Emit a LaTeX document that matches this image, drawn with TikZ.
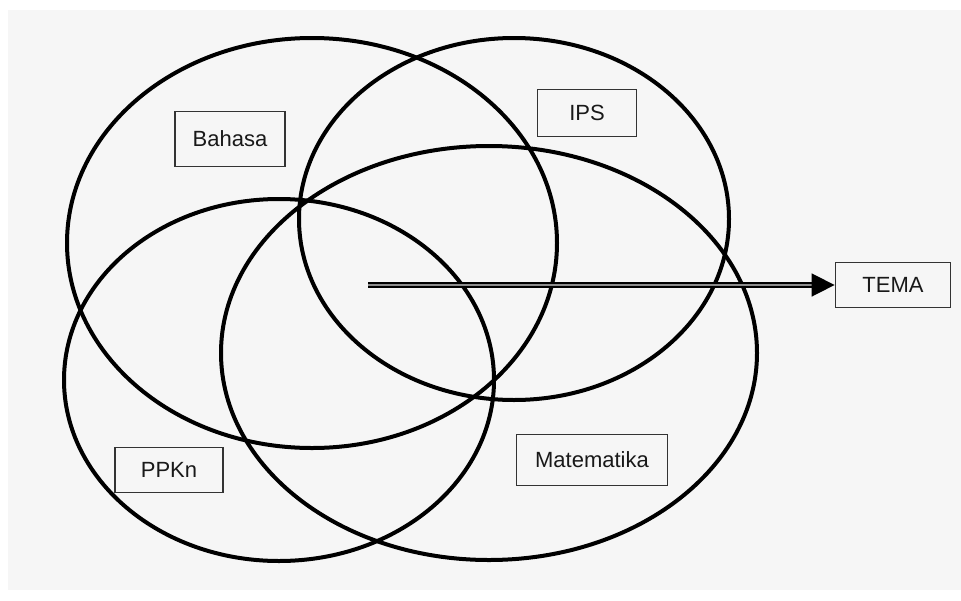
\documentclass[tikz,border=0pt]{standalone}
\usepackage{fontspec}
\setmainfont{Liberation Sans}
\usetikzlibrary{arrows.meta}

\definecolor{paper}{RGB}{246,246,246}
\definecolor{ink}{RGB}{25,25,25}

\tikzset{
    ring/.style={draw=black, line width=4pt},
    subject/.style={draw=black!80, line width=1.8pt, text=ink, inner sep=0pt,
        font=\fontsize{22}{26}\selectfont},
}

\begin{document}
\begin{tikzpicture}[x=1pt, y=-1pt]
            \useasboundingbox (0, 0) rectangle (961, 600);
            \fill[paper] (8, 10) rectangle (961, 590);

            % lingkaran mata pelajaran
            \draw[ring] (312, 243) ellipse [x radius=245pt, y radius=205pt];
            \draw[ring] (514, 219) ellipse [x radius=215pt, y radius=181pt];
            \draw[ring] (279, 380) ellipse [x radius=215pt, y radius=181pt];
            \draw[ring] (489, 353) ellipse [x radius=268pt, y radius=207pt];

            \node[subject, minimum width=110pt, minimum height=55pt] (bahasa) at (230, 139) {Bahasa};
            \node[subject, minimum width=99pt, minimum height=47pt] (ips) at (587, 113) {IPS};
            \node[subject, minimum width=108pt, minimum height=45pt] (ppkn) at (169, 470) {PPKn};
            \node[subject, minimum width=151pt, minimum height=51pt] (mtk) at (592, 460) {Matematika};
            \node[subject, minimum width=115pt, minimum height=45pt] (tema) at (893, 285) {TEMA};

            % panah ke tema
            \coordinate (pusat) at (368, 285);
            \draw[line width=1.6pt, double=black!45, double distance=2.6pt,
                -{Triangle[length=23pt, width=23pt]}] (pusat) -- (tema.west);
        \end{tikzpicture}
\end{document}
